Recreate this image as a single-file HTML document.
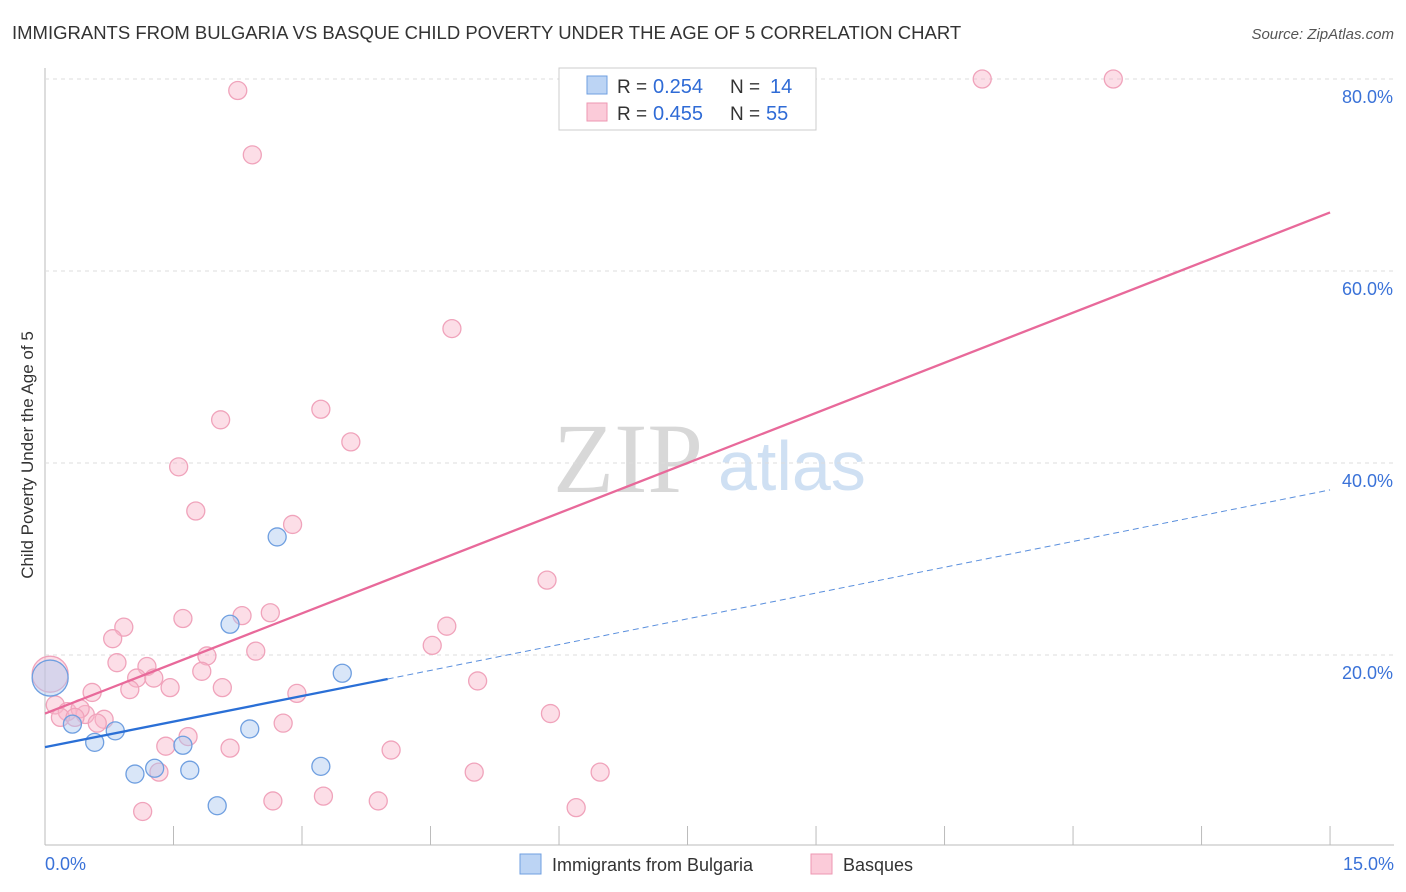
<!DOCTYPE html>
<html><head><meta charset="utf-8"><style>
body{margin:0;background:#fff;font-family:"Liberation Sans",sans-serif;}
#wrap{position:relative;width:1406px;height:892px;overflow:hidden;}
</style></head><body>
<div id="wrap">
<svg id="svg" width="1406" height="892" xmlns="http://www.w3.org/2000/svg">
<text x="12" y="39" font-size="18.5" fill="#333">IMMIGRANTS FROM BULGARIA VS BASQUE CHILD POVERTY UNDER THE AGE OF 5 CORRELATION CHART</text>
<text x="1394" y="39" font-size="15" fill="#555" font-style="italic" text-anchor="end">Source: ZipAtlas.com</text>
<text x="33" y="455" font-size="17" fill="#333" text-anchor="middle" transform="rotate(-90 33 455)">Child Poverty Under the Age of 5</text>
<text x="553" y="492" font-size="100" fill="#d8d8d8" font-family="Liberation Serif">ZIP</text>
<text x="718" y="490" font-size="70" fill="#cfe0f3">atlas</text>
<g id="grid"></g><g id="pts"></g><g id="lines"></g>
<g>
<rect x="559" y="68" width="257" height="62" fill="#fff" stroke="#ccc"/>
<rect x="587" y="76" width="20" height="18" fill="#bcd4f4" stroke="#6f9fe0"/>
<rect x="587" y="103" width="20" height="18" fill="#fbcbd9" stroke="#ee97b2"/>
<text x="617" y="93" font-size="19" fill="#333">R =</text>
<text x="653" y="93" font-size="20" fill="#2f6bd6">0.254</text>
<text x="730" y="93" font-size="19" fill="#333">N =</text>
<text x="770" y="93" font-size="20" fill="#2f6bd6">14</text>
<text x="617" y="120" font-size="19" fill="#333">R =</text>
<text x="653" y="120" font-size="20" fill="#2f6bd6">0.455</text>
<text x="730" y="120" font-size="19" fill="#333">N =</text>
<text x="766" y="120" font-size="20" fill="#2f6bd6">55</text>
</g>
<g>
<rect x="520" y="854" width="21" height="20" fill="#bcd4f4" stroke="#6f9fe0"/>
<text x="552" y="871" font-size="18" fill="#333">Immigrants from Bulgaria</text>
<rect x="811" y="854" width="21" height="20" fill="#fbcbd9" stroke="#ee97b2"/>
<text x="843" y="871" font-size="18" fill="#333">Basques</text>
</g>
<text x="45" y="870" font-size="18" fill="#3a72d8">0.0%</text>
<text x="1394" y="870" font-size="18" fill="#3a72d8" text-anchor="end">15.0%</text>
</svg></div>
<script>
const yTicks=[20,40,60,80];
const blueX=[0.06,0.32,0.58,0.82,1.05,1.28,1.61,1.69,2.01,2.16,2.39,2.71,3.22,3.47];
const blueY=[17.6,12.8,10.9,12.1,7.6,8.2,10.6,8.0,4.3,23.2,12.3,32.3,8.4,18.1];
const pinkX=[0.06,2.25,2.42,10.94,12.47,4.75,3.22,3.57,2.05,1.56,1.76,2.89,5.86,2.30,2.63,4.69,4.52,1.61,0.92,0.79,2.46,1.89,0.84,1.19,1.07,1.27,1.46,0.99,2.07,1.83,0.55,2.94,5.05,0.12,0.26,0.47,0.18,0.69,0.61,2.78,5.90,1.67,1.41,2.16,4.04,1.33,5.01,6.48,1.14,2.66,3.25,3.89,6.20,0.41,0.35];
const pinkY=[18.0,78.8,72.1,80.0,80.0,54.0,45.6,42.2,44.5,39.6,35.0,33.6,27.8,24.1,24.4,23.0,21.0,23.8,22.9,21.7,20.4,19.9,19.2,18.8,17.6,17.6,16.6,16.4,16.6,18.3,16.1,16.0,17.3,14.8,14.1,13.8,13.5,13.3,12.9,12.9,13.9,11.5,10.5,10.3,10.1,7.8,7.8,7.8,3.7,4.8,5.3,4.8,4.1,14.4,13.5];
const X=v=>45+v*85.67, Y=v=>847-v*9.6;
const NS="http://www.w3.org/2000/svg";
function mk(t,a,p){const e=document.createElementNS(NS,t);for(const k in a)e.setAttribute(k,a[k]);p.appendChild(e);return e;}
const g=document.getElementById('grid');
mk('line',{x1:45,y1:68,x2:45,y2:845,stroke:'#bbb'},g);
mk('line',{x1:45,y1:845,x2:1394,y2:845,stroke:'#bbb'},g);
for(let i=1;i<=10;i++){const t=mk('line',{x1:X(i*1.5),y1:826,x2:X(i*1.5),y2:845,stroke:'#bbb'},g);}
yTicks.forEach(v=>{const l=mk('line',{x1:45,y1:Y(v),x2:1394,y2:Y(v),stroke:'#ddd','stroke-dasharray':'4,4'},g);
const t=mk('text',{x:1393,y:Y(v)+24,'font-size':18,fill:'#3a72d8','text-anchor':'end'},g);t.textContent=v.toFixed(1)+'%';});
const p=document.getElementById('pts');
pinkX.forEach((x,i)=>{const c=mk('circle',{cx:X(x),cy:Y(pinkY[i]),r:i==0?18:9,fill:'rgba(248,182,202,0.45)',stroke:'#f0a3bb','stroke-width':1.3},p);});
blueX.forEach((x,i)=>{const c=mk('circle',{cx:X(x),cy:Y(blueY[i]),r:i==0?18:9,fill:'rgba(170,200,240,0.45)',stroke:'#6f9fe0','stroke-width':1.3},p);});
const L=document.getElementById('lines');
let e=mk('line',{x1:X(0),y1:Y(13.9),x2:X(15),y2:Y(66.1),stroke:'#e8699a','stroke-width':2.3},L);

e=mk('line',{x1:X(0),y1:Y(10.4),x2:X(4),y2:Y(17.5),stroke:'#2a6fd6','stroke-width':2.3},L);

e=mk('line',{x1:X(4),y1:Y(17.5),x2:X(15),y2:Y(37.2),stroke:'#5a8fdd','stroke-width':1,'stroke-dasharray':'6,4'},L);

</script>
</body></html>
